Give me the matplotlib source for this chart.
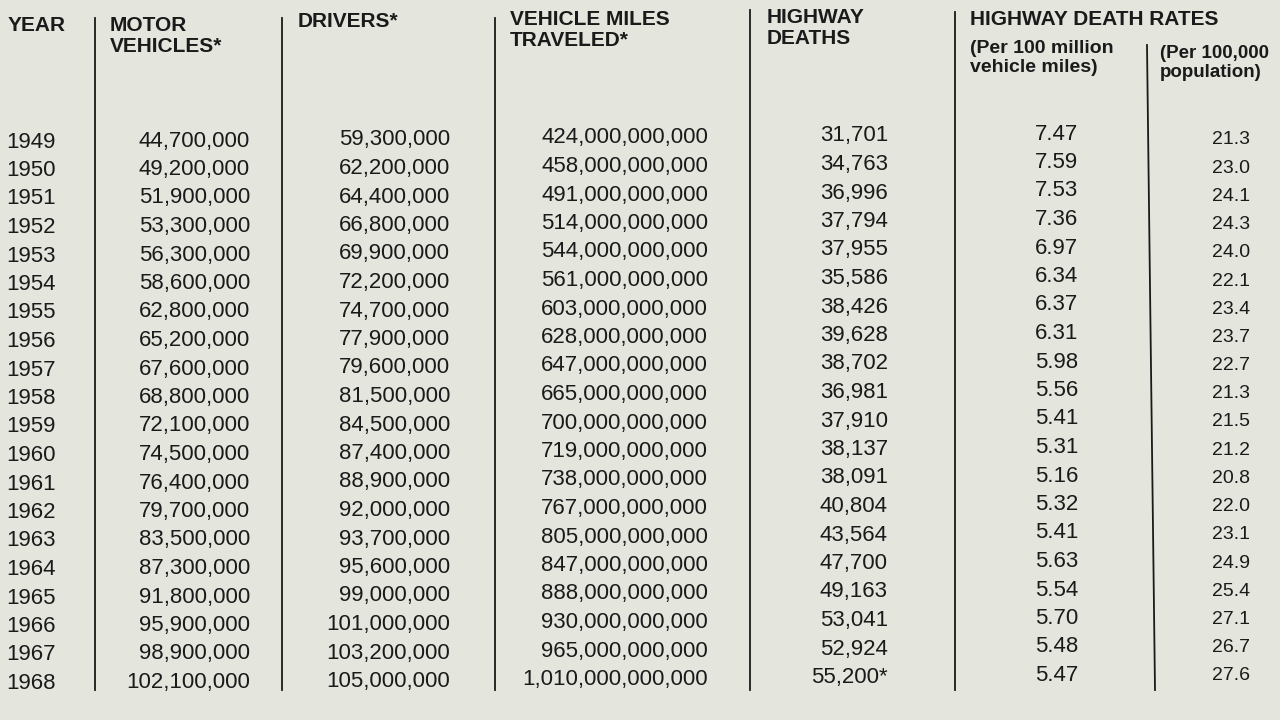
import matplotlib.pyplot as plt

# Datos de la tabla (cifras de tráfico en EE.UU.)
years = list(range(1949, 1969))
motor_vehicles = ["44,700,000", "49,200,000", "51,900,000", "53,300,000", "56,300,000",
                  "58,600,000", "62,800,000", "65,200,000", "67,600,000", "68,800,000",
                  "72,100,000", "74,500,000", "76,400,000", "79,700,000", "83,500,000",
                  "87,300,000", "91,800,000", "95,900,000", "98,900,000", "102,100,000"]
drivers = ["59,300,000", "62,200,000", "64,400,000", "66,800,000", "69,900,000",
           "72,200,000", "74,700,000", "77,900,000", "79,600,000", "81,500,000",
           "84,500,000", "87,400,000", "88,900,000", "92,000,000", "93,700,000",
           "95,600,000", "99,000,000", "101,000,000", "103,200,000", "105,000,000"]
miles = ["424,000,000,000", "458,000,000,000", "491,000,000,000", "514,000,000,000",
         "544,000,000,000", "561,000,000,000", "603,000,000,000", "628,000,000,000",
         "647,000,000,000", "665,000,000,000", "700,000,000,000", "719,000,000,000",
         "738,000,000,000", "767,000,000,000", "805,000,000,000", "847,000,000,000",
         "888,000,000,000", "930,000,000,000", "965,000,000,000", "1,010,000,000,000"]
deaths = ["31,701", "34,763", "36,996", "37,794", "37,955", "35,586", "38,426", "39,628",
          "38,702", "36,981", "37,910", "38,137", "38,091", "40,804", "43,564", "47,700",
          "49,163", "53,041", "52,924", "55,200*"]
rate_miles = ["7.47", "7.59", "7.53", "7.36", "6.97", "6.34", "6.37", "6.31", "5.98", "5.56",
              "5.41", "5.31", "5.16", "5.32", "5.41", "5.63", "5.54", "5.70", "5.48", "5.47"]
rate_pop = ["21.3", "23.0", "24.1", "24.3", "24.0", "22.1", "23.4", "23.7", "22.7", "21.3",
            "21.5", "21.2", "20.8", "22.0", "23.1", "24.9", "25.4", "27.1", "26.7", "27.6"]

fig = plt.figure(figsize=(12.8, 7.2), dpi=100)
fig.patch.set_facecolor('#e4e6de')
ax = fig.add_axes([0, 0, 1, 1])
ax.set_facecolor('#e4e6de')
ax.set_xlim(0, 1280)
ax.set_ylim(720, 0)
ax.axis('off')

fuente = 'Liberation Sans'
color = '#1a1a1a'

# Encabezados
enc = dict(fontsize=15, fontweight='bold', family=fuente, color=color, va='top', ha='left')
ax.text(8, 16, "YEAR", **enc)
ax.text(110, 16, "MOTOR\nVEHICLES*", linespacing=1.15, **enc)
ax.text(298, 12, "DRIVERS*", **enc)
ax.text(510, 10, "VEHICLE MILES\nTRAVELED*", linespacing=1.15, **enc)
ax.text(767, 8, "HIGHWAY\nDEATHS", linespacing=1.15, **enc)
ax.text(970, 10, "HIGHWAY DEATH RATES", **enc)
ax.text(970, 40, "(Per 100 million\nvehicle miles)", linespacing=1.15,
        **{**enc, 'fontsize': 14})
ax.text(1160, 45, "(Per 100,000\npopulation)", linespacing=1.15,
        **{**enc, 'fontsize': 13.5})

# Líneas verticales
for x, y0 in [(95, 18), (282, 18), (495, 18), (750, 10), (955, 12)]:
    ax.plot([x, x], [y0, 690], color=color, lw=1.3)
ax.plot([1147, 1155], [45, 690], color=color, lw=1.3)

# Filas
cuerpo = dict(fontsize=16, family=fuente, color=color, va='center')
for i, year in enumerate(years):
    y = 142 + i * 28.5
    ax.text(6, y, str(year), ha='left', **cuerpo)
    ax.text(250, y - 1, motor_vehicles[i], ha='right', **cuerpo)
    ax.text(450, y - 2, drivers[i], ha='right', **cuerpo)
    ax.text(708, y - 4, miles[i], ha='right', **cuerpo)
    ax.text(888, y - 6, deaths[i], ha='right', **cuerpo)
    ax.text(1078, y - 8, rate_miles[i], ha='right', **cuerpo)
    ax.text(1250, y - 2 - i * 0.3, rate_pop[i], ha='right', **{**cuerpo, 'fontsize': 14})

fig.savefig('out.png', dpi=100, facecolor=fig.get_facecolor())
